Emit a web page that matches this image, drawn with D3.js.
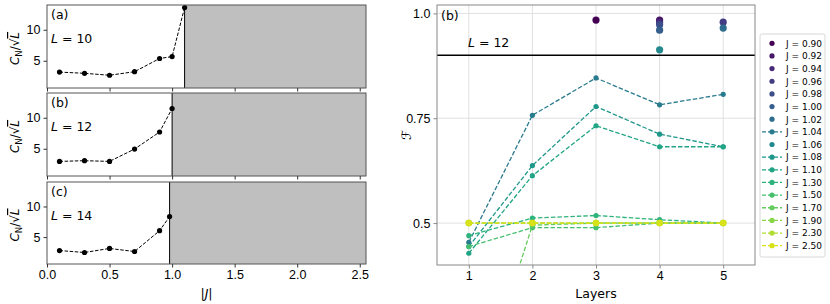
<!DOCTYPE html>
<html>
<head>
<meta charset="utf-8">
<style>
  body { margin: 0; background: #fff; }
  svg { font-family: "DejaVu Sans", sans-serif; }
  .tick text { font-size: 12px; fill: #000; }
  .grid line { stroke: #e0e0e0; }
</style>
</head>
<body>
<svg width="830" height="304"></svg>
<script src="https://cdn.jsdelivr.net/npm/d3@7"></script>
<script>
// ---- data: left panels (C_N / sqrt(L) vs |J|) ----
var sizeL = [10, 12, 14];
var panelTags = ['(a)', '(b)', '(c)'];
var jA = [0.1, 0.3, 0.5, 0.7, 0.9, 1.0, 1.1];
var cA = [3.17, 2.97, 2.66, 3.23, 5.36, 5.67, 13.6];
var jB = [0.1, 0.3, 0.5, 0.7, 0.9, 1.0];
var cB = [2.96, 3.07, 2.96, 4.95, 7.7, 11.5];
var jC = [0.1, 0.3, 0.5, 0.7, 0.9, 0.98];
var cC = [2.8, 2.48, 3.14, 2.64, 6.04, 8.35];
var jCrit = [1.1, 1.0, 0.98];
var leftXTicks = [0.0, 0.5, 1.0, 1.5, 2.0, 2.5];
var leftYTicks = [5, 10];

// ---- data: right panel (fidelity vs layers, L = 12) ----
var layers = [1, 2, 3, 4, 5];
var jLabels = ['0.90', '0.92', '0.94', '0.96', '0.98', '1.00', '1.02', '1.04', '1.06',
               '1.08', '1.10', '1.30', '1.50', '1.70', '1.90', '2.30', '2.50'];
// single points (scatter) : label, layer, fidelity
var scatterJ = ['0.90', '0.92', '0.94', '0.96', '0.98', '1.00', '1.02', '1.06'];
var scatterLayer = [3, 4, 4, 5, 4, 4, 5, 4];
var scatterF = [0.984, 0.984, 0.978, 0.979, 0.973, 0.960, 0.965, 0.913];
// dashed series
var seriesJ = ['1.04', '1.08', '1.10', '1.30', '1.50', '1.70', '1.90', '2.30', '2.50'];
var seriesF = [
  [0.454, 0.757, 0.846, 0.782, 0.807],
  [0.444, 0.637, 0.778, 0.712, 0.682],
  [0.428, 0.613, 0.732, 0.682, 0.682],
  [0.470, 0.512, 0.518, 0.508, 0.500],
  [0.444, 0.489, 0.489, 0.500, 0.500],
  [0.020, 0.495, 0.500, 0.500, 0.500],
  [0.500, 0.500, 0.500, 0.500, 0.500],
  [0.500, 0.500, 0.500, 0.500, 0.500],
  [0.500, 0.500, 0.500, 0.500, 0.500]
];
var threshold = 0.9;
var rightXTicks = [1, 2, 3, 4, 5];
var rightYTicks = [0.5, 0.75, 1.0];

var svg = d3.select('svg');
function colorOf(lbl) { return d3.interpolateViridis(jLabels.indexOf(lbl) / jLabels.length); }

/*
 * left stack of panels
 */
var lx0 = 47, lx1 = 366;
var panelBox = [[5, 88], [93, 176], [182, 264]];
var leftData = [[jA, cA], [jB, cB], [jC, cC]];
var x = d3.scaleLinear().domain([0, 2.55]).range([lx0, lx1]);

panelBox.forEach(function(b, i) {
  var y = d3.scaleLinear().domain([0.6, 14]).range([b[1], b[0]]);
  var g = svg.append('g');

  g.append('rect').attr('x', x(jCrit[i])).attr('y', b[0])
    .attr('width', lx1 - x(jCrit[i])).attr('height', b[1] - b[0]).attr('fill', '#bfbfbf');
  g.append('line').attr('x1', x(jCrit[i])).attr('x2', x(jCrit[i]))
    .attr('y1', b[0]).attr('y2', b[1]).attr('stroke', '#000').attr('stroke-width', 1);

  var xs = leftData[i][0], ys = leftData[i][1];
  var pts = xs.map(function(d, k) { return [d, ys[k]]; });
  g.append('path').datum(pts)
    .attr('d', d3.line().x(function(d) { return x(d[0]); }).y(function(d) { return y(d[1]); }))
    .attr('fill', 'none').attr('stroke', '#000').attr('stroke-width', 1).attr('stroke-dasharray', '3.5,1.6');
  g.selectAll('circle.pt').data(pts).enter().append('circle')
    .attr('cx', function(d) { return x(d[0]); }).attr('cy', function(d) { return y(d[1]); })
    .attr('r', 2.6).attr('fill', '#000');

  g.append('rect').attr('x', lx0).attr('y', b[0]).attr('width', lx1 - lx0).attr('height', b[1] - b[0])
    .attr('fill', 'none').attr('stroke', '#555').attr('stroke-width', 1);

  var ya = g.append('g').attr('transform', 'translate(' + lx0 + ',0)')
    .call(d3.axisLeft(y).tickValues(leftYTicks).tickSize(3.5).tickPadding(3));
  ya.select('.domain').remove();
  ya.selectAll('.tick line').attr('stroke', '#333');
  ya.selectAll('.tick text').style('font-size', '12.5px');

  var xa = g.append('g').attr('transform', 'translate(0,' + b[1] + ')')
    .call(d3.axisBottom(x).tickValues(leftXTicks).tickSize(3.5).tickPadding(3)
      .tickFormat(i === 2 ? d3.format('.1f') : ''));
  xa.select('.domain').remove();
  xa.selectAll('.tick line').attr('stroke', '#333');
  xa.selectAll('.tick text').style('font-size', '12.5px');

  g.append('text').attr('x', 51).attr('y', b[0] + 14).style('font-size', '12.5px').text(panelTags[i]);
  var lt = g.append('text').attr('x', 51).attr('y', b[0] + 38).style('font-size', '12.5px');
  lt.append('tspan').style('font-style', 'italic').text('L');
  lt.append('tspan').text(' = ' + sizeL[i]);

  var yl = g.append('text')
    .attr('transform', 'translate(19,' + ((b[0] + b[1]) / 2 + 2) + ') rotate(-90)')
    .attr('text-anchor', 'middle').style('font-size', '12px');
  yl.append('tspan').style('font-style', 'italic').text('C');
  yl.append('tspan').attr('dy', 3).style('font-size', '8.5px').text('N');
  yl.append('tspan').attr('dy', -3).text('/√');
  yl.append('tspan').style('font-style', 'italic').style('text-decoration', 'overline').text('L');
});

svg.append('text').attr('x', (lx0 + lx1) / 2).attr('y', 298).attr('text-anchor', 'middle')
  .style('font-size', '12.5px').html('|<tspan font-style="italic">J</tspan>|');

/*
 * right panel
 */
var rx0 = 437, rx1 = 755, ry0 = 5, ry1 = 265;
var xr = d3.scaleLinear().domain([0.5, 5.5]).range([rx0, rx1]);
var yr = d3.scaleLinear().domain([0.4, 1.02]).range([ry1, ry0]);
var rg = svg.append('g');
rg.append('clipPath').attr('id', 'clipR').append('rect')
  .attr('x', rx0).attr('y', ry0).attr('width', rx1 - rx0).attr('height', ry1 - ry0);

var grid = rg.append('g').attr('class', 'grid');
grid.selectAll('line.gx').data(rightXTicks).enter().append('line')
  .attr('x1', function(d) { return xr(d); }).attr('x2', function(d) { return xr(d); })
  .attr('y1', ry0).attr('y2', ry1);
grid.selectAll('line.gy').data(rightYTicks).enter().append('line')
  .attr('x1', rx0).attr('x2', rx1)
  .attr('y1', function(d) { return yr(d); }).attr('y2', function(d) { return yr(d); });

rg.append('line').attr('x1', rx0).attr('x2', rx1).attr('y1', yr(threshold)).attr('y2', yr(threshold))
  .attr('stroke', '#000').attr('stroke-width', 1.5);

var plot = rg.append('g').attr('clip-path', 'url(#clipR)');
var lineR = d3.line().x(function(d) { return xr(d[0]); }).y(function(d) { return yr(d[1]); });
seriesJ.forEach(function(lbl, s) {
  var pts = layers.map(function(l, k) { return [l, seriesF[s][k]]; });
  var c = colorOf(lbl);
  plot.append('path').datum(pts).attr('d', lineR)
    .attr('fill', 'none').attr('stroke', c).attr('stroke-width', 1.3).attr('stroke-dasharray', '4.5,2');
  plot.selectAll(null).data(pts).enter().append('circle')
    .attr('cx', function(d) { return xr(d[0]); }).attr('cy', function(d) { return yr(d[1]); })
    .attr('r', s >= 6 ? 3.2 : 2.6).attr('fill', c);
});
scatterJ.forEach(function(lbl, s) {
  plot.append('circle').attr('cx', xr(scatterLayer[s])).attr('cy', yr(scatterF[s]))
    .attr('r', 3.6).attr('fill', colorOf(lbl));
});

rg.append('rect').attr('x', rx0).attr('y', ry0).attr('width', rx1 - rx0).attr('height', ry1 - ry0)
  .attr('fill', 'none').attr('stroke', '#888').attr('stroke-width', 1);

var rya = rg.append('g').attr('transform', 'translate(' + rx0 + ',0)')
  .call(d3.axisLeft(yr).tickValues(rightYTicks).tickSize(3.5).tickPadding(3)
    .tickFormat(function(d) { return d === 0.75 ? '0.75' : d3.format('.1f')(d); }));
rya.select('.domain').remove();
rya.selectAll('.tick line').attr('stroke', '#888');
rya.selectAll('.tick text').style('font-size', '12.5px');
var rxa = rg.append('g').attr('transform', 'translate(0,' + ry1 + ')')
  .call(d3.axisBottom(xr).tickValues(rightXTicks).tickSize(3.5).tickPadding(3).tickFormat(d3.format('d')));
rxa.select('.domain').remove();
rxa.selectAll('.tick line').attr('stroke', '#888');
rxa.selectAll('.tick text').style('font-size', '12.5px');

rg.append('text').attr('x', 441).attr('y', 20).style('font-size', '12.5px').text('(b)');
var rl = rg.append('text').attr('x', 468).attr('y', 47).style('font-size', '12.5px');
rl.append('tspan').style('font-style', 'italic').text('L');
rl.append('tspan').text(' = 12');
rg.append('text').attr('x', 596).attr('y', 298).attr('text-anchor', 'middle')
  .style('font-size', '12.5px').text('Layers');
rg.append('text').attr('transform', 'translate(411,' + yr(0.71) + ') rotate(-90)')
  .attr('text-anchor', 'middle').style('font-size', '13px').style('font-style', 'italic').text('ℱ');

/*
 * legend
 */
var lg = svg.append('g');
lg.append('rect').attr('x', 760).attr('y', 34).attr('width', 65).attr('height', 223).attr('rx', 2)
  .attr('fill', '#fff').attr('stroke', '#d8d8d8');
var lineSet = new Set(seriesJ);
jLabels.forEach(function(lbl, i) {
  var yy = 43.3 + i * 12.65;
  var c = colorOf(lbl);
  if (lineSet.has(lbl)) {
    lg.append('line').attr('x1', 762).attr('x2', 782).attr('y1', yy).attr('y2', yy)
      .attr('stroke', c).attr('stroke-width', 1.3).attr('stroke-dasharray', '4,2');
  }
  lg.append('circle').attr('cx', 772).attr('cy', yy).attr('r', 2.6).attr('fill', c);
  lg.append('text').attr('x', 786).attr('y', yy + 3.3).style('font-size', '9px').text('J = ' + lbl);
});
</script>
</body>
</html>
